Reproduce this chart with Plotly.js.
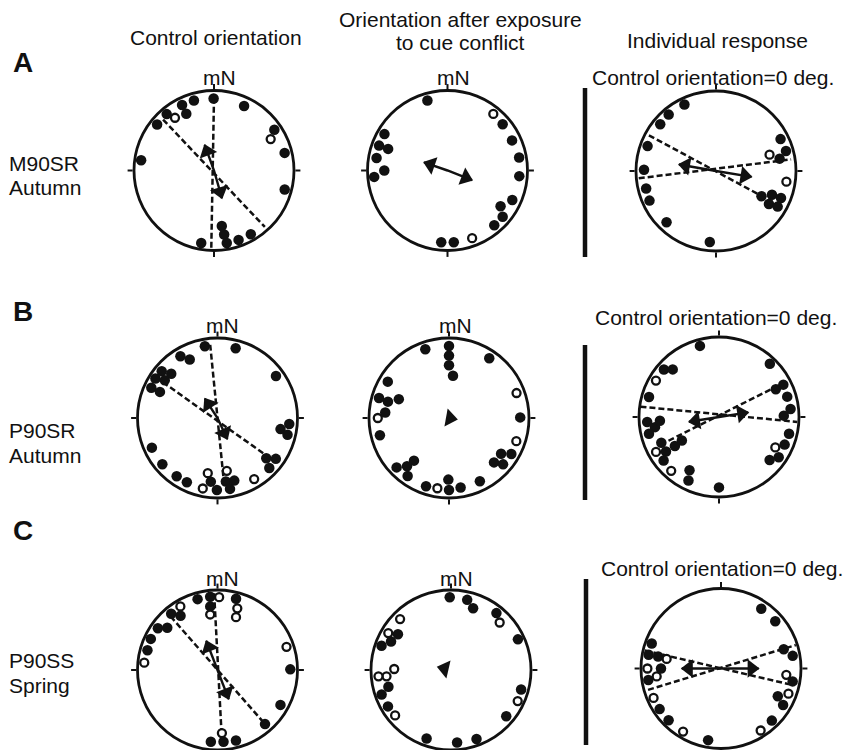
<!DOCTYPE html>
<html><head><meta charset="utf-8">
<script src="https://cdn.plot.ly/plotly-3.0.1.min.js"></script>
<style>html,body{margin:0;padding:0;background:#fff}#chart{width:846px;height:750px}</style>
</head><body><div id="chart"></div>
<script>
// ---------- DATA (angles in degrees from mN, clockwise; r as fraction of circle radius) ----------
// Row A, M90SR Autumn
const a1FilledTheta = [359.7, 344, 334, 334, 320, 309, 278, 25, 56, 76, 105, 150, 160.5, 170, 171, 172, 190];
const a1FilledR     = [0.90, 0.91, 0.91, 0.79, 0.92, 0.915, 0.92, 0.89, 0.91, 0.91, 0.915, 0.92, 0.92, 0.92, 0.81, 0.70, 0.92];
const a1OpenTheta   = [323.5, 61];
const a1OpenR       = [0.82, 0.81];
const a1LineTheta   = [0, 182, null, 315, 138];
const a1LineR       = [0.91, 0.97, null, 0.90, 0.95];
const a1ArrowTheta  = [340, 164];
const a1ArrowR      = [0.34, 0.36];

const a2FilledTheta = [344, 50, 65, 79.7, 94.5, 114.5, 124, 130, 139.5, 175, 185, 300, 290, 290, 280, 270, 265];
const a2FilledR     = [0.91, 0.90, 0.89, 0.91, 0.90, 0.89, 0.80, 0.90, 0.90, 0.90, 0.90, 0.91, 0.91, 0.79, 0.90, 0.79, 0.92];
const a2OpenTheta   = [39, 160];
const a2OpenR       = [0.91, 0.90];
const a2ArrowTheta  = [289, 111.5];
const a2ArrowR      = [0.31, 0.33];

const a3FilledTheta = [334.6, 320, 310, 290, 271, 256, 246, 224, 185, 63.7, 74, 79, 119, 113, 112.6, 122, 120];
const a3FilledR     = [0.92, 0.92, 0.91, 0.91, 0.90, 0.90, 0.91, 0.89, 0.89, 0.90, 0.91, 0.81, 0.65, 0.76, 0.88, 0.78, 0.89];
const a3OpenTheta   = [73, 98.6];
const a3OpenR       = [0.70, 0.89];
const a3LineTheta   = [298, 118.6, null, 264.6, 81.2];
const a3LineR       = [0.95, 0.80, null, 0.97, 0.95];
const a3ArrowTheta  = [280, 99.5];
const a3ArrowR      = [0.47, 0.45];

// Row B, P90SR Autumn
const b1FilledTheta = [350, 14.6, 329, 334.6, 310, 313.7, 302.5, 305.5, 294.6, 294.4, 54.3, 94.8, 100, 103.5, 129.5, 125, 134, 245.7, 230, 215, 205.5, 186, 180.5, 172.5, 165, 170];
const b1FilledR     = [0.91, 0.90, 0.90, 0.81, 0.91, 0.80, 0.92, 0.81, 0.91, 0.79, 0.90, 0.90, 0.80, 0.90, 0.79, 0.89, 0.90, 0.90, 0.90, 0.89, 0.89, 0.80, 0.90, 0.80, 0.81, 0.90];
const b1OpenTheta   = [190, 191.8, 170, 149];
const b1OpenR       = [0.70, 0.90, 0.67, 0.89];
const b1LineTheta   = [354.3, 174.3, null, 303.5, 127.5];
const b1LineR       = [0.92, 0.75, null, 0.93, 0.77];
const b1ArrowTheta  = [327, 155];
const b1ArrowR      = [0.29, 0.29];

const b2FilledTheta = [341, 0, 0, 0, 5.4, 34, 300.7, 286, 285, 290.6, 275, 256, 89.5, 124.5, 120, 134.6, 130.6, 219.4, 226.7, 221, 215.5, 198.6, 180.6, 180, 170.5, 154];
const b2FilledR     = [0.91, 0.90, 0.78, 0.66, 0.53, 0.90, 0.89, 0.91, 0.79, 0.67, 0.80, 0.89, 0.89, 0.79, 0.90, 0.79, 0.89, 0.69, 0.90, 0.80, 0.89, 0.90, 0.77, 0.90, 0.88, 0.88];
const b2OpenTheta   = [270, 69.7, 109, 189.4];
const b2OpenR       = [0.89, 0.90, 0.89, 0.89];
const b2ArrowTheta  = [100];
const b2ArrowR      = [0.1];

const b3FilledTheta = [345, 43.7, 310.8, 315.8, 286, 266, 261, 266.4, 256.5, 245.9, 237, 231.9, 236.7, 237.6, 209, 205.7, 180, 63.3, 64, 73.4, 83.6, 88.8, 103.4, 112.8, 124, 130.3];
const b3FilledR     = [0.92, 0.92, 0.91, 0.83, 0.91, 0.90, 0.81, 0.74, 0.90, 0.79, 0.79, 0.88, 0.66, 0.55, 0.76, 0.88, 0.88, 0.90, 0.79, 0.89, 0.90, 0.81, 0.90, 0.89, 0.90, 0.83];
const b3OpenTheta   = [300, 241, 221.6, 118.4];
const b3OpenR       = [0.91, 0.90, 0.90, 0.80];
const b3LineTheta   = [277.5, 93.6, null, 244.6, 62.3];
const b3LineR       = [0.99, 0.98, null, 0.81, 0.95];
const b3ArrowTheta  = [261, 81];
const b3ArrowR      = [0.38, 0.37];

// Row C, P90SS Spring
const c1FilledTheta = [344.3, 354.3, 353.5, 14.6, 320.5, 325.7, 305, 310, 295, 285.8, 89.5, 119, 138.7, 185.3, 175.2, 165.3];
const c1FilledR     = [0.92, 0.92, 0.80, 0.92, 0.91, 0.82, 0.91, 0.82, 0.92, 0.91, 0.91, 0.90, 0.90, 0.90, 0.90, 0.91];
const c1OpenTheta   = [1.3, 329.7, 352.5, 17.8, 19.3, 71.4, 275.7, 176];
const c1OpenR       = [0.91, 0.92, 0.70, 0.81, 0.70, 0.91, 0.92, 0.79];
const c1LineTheta   = [357.5, 176.4, null, 318.8, 138.7];
const c1LineR       = [0.96, 0.86, null, 0.89, 0.90];
const c1ArrowTheta  = [339, 159];
const c1ArrowR      = [0.39, 0.39];

const c2FilledTheta = [359, 13, 19.7, 38.6, 65.4, 105.6, 129.9, 159.7, 175.2, 199.6, 304, 289.3, 295.4, 255, 250.5, 240];
const c2FilledR     = [0.91, 0.90, 0.82, 0.91, 0.92, 0.91, 0.90, 0.92, 0.91, 0.91, 0.80, 0.92, 0.83, 0.81, 0.92, 0.91];
const c2OpenTheta   = [315, 300.5, 45.7, 271, 264.4, 265, 115, 230.9];
const c2OpenR       = [0.90, 0.91, 0.85, 0.71, 0.81, 0.91, 0.92, 0.90];
const c2ArrowTheta  = [283];
const c2ArrowR      = [0.17];

const c3FilledTheta = [34, 48.9, 289.8, 280.7, 280.8, 270, 261, 73, 80, 100.2, 116, 120.4, 135.7, 236.5, 225.4, 190.2];
const c3FilledR     = [0.90, 0.90, 0.92, 0.92, 0.80, 0.75, 0.92, 0.82, 0.91, 0.91, 0.79, 0.90, 0.91, 0.92, 0.92, 0.91];
const c3OpenTheta   = [280, 270, 263, 246.4, 95.5, 110.5, 147.4, 211];
const c3OpenR       = [0.69, 0.92, 0.81, 0.92, 0.82, 0.90, 0.92, 0.92];
const c3LineTheta   = [283.3, 103, null, 253.7, 72.6];
const c3LineR       = [0.98, 0.90, null, 0.95, 0.98];
const c3ArrowTheta  = [270, 90];
const c3ArrowR      = [0.49, 0.47];

// Text
const panelLetters  = ['A', 'B', 'C'];
const groupLine1    = ['M90SR', 'P90SR', 'P90SS'];
const groupLine2    = ['Autumn', 'Autumn', 'Spring'];
const columnTitles  = ['Control orientation', 'Orientation after exposure', 'to cue conflict', 'Individual response'];
const northLabel    = 'mN';
const refLabel      = 'Control orientation=0 deg.';

// ---------- LAYOUT GEOMETRY ----------
const W = 846, H = 750, RAD = 80;
const INK = '#111';
const FONT = 'Liberation Sans, Arial, Helvetica, sans-serif';
const FS = 21;
const centers = [
  [214, 170.5], [447.5, 170.5], [716, 171],
  [217.5, 418], [449, 418], [719, 417],
  [217.5, 670], [451, 670], [721, 668.5]
];
const panels = [
  {f:[a1FilledTheta,a1FilledR], o:[a1OpenTheta,a1OpenR], l:[a1LineTheta,a1LineR], a:[a1ArrowTheta,a1ArrowR]},
  {f:[a2FilledTheta,a2FilledR], o:[a2OpenTheta,a2OpenR], l:null, a:[a2ArrowTheta,a2ArrowR]},
  {f:[a3FilledTheta,a3FilledR], o:[a3OpenTheta,a3OpenR], l:[a3LineTheta,a3LineR], a:[a3ArrowTheta,a3ArrowR]},
  {f:[b1FilledTheta,b1FilledR], o:[b1OpenTheta,b1OpenR], l:[b1LineTheta,b1LineR], a:[b1ArrowTheta,b1ArrowR]},
  {f:[b2FilledTheta,b2FilledR], o:[b2OpenTheta,b2OpenR], l:null, a:[b2ArrowTheta,b2ArrowR], single:true},
  {f:[b3FilledTheta,b3FilledR], o:[b3OpenTheta,b3OpenR], l:[b3LineTheta,b3LineR], a:[b3ArrowTheta,b3ArrowR]},
  {f:[c1FilledTheta,c1FilledR], o:[c1OpenTheta,c1OpenR], l:[c1LineTheta,c1LineR], a:[c1ArrowTheta,c1ArrowR]},
  {f:[c2FilledTheta,c2FilledR], o:[c2OpenTheta,c2OpenR], l:null, a:[c2ArrowTheta,c2ArrowR], single:true},
  {f:[c3FilledTheta,c3FilledR], o:[c3OpenTheta,c3OpenR], l:[c3LineTheta,c3LineR], a:[c3ArrowTheta,c3ArrowR]}
];

const traces = [];
const layout = {
  width: W, height: H, margin: {l:0, r:0, t:0, b:0},
  paper_bgcolor: '#fff', showlegend: false,
  font: {family: FONT, color: INK, size: FS},
  annotations: [], shapes: []
};

panels.forEach((p, i) => {
  const id = i === 0 ? 'polar' : 'polar' + (i + 1);
  const [cx, cy] = centers[i];
  layout[id] = {
    domain: {x: [(cx - RAD) / W, (cx + RAD) / W], y: [1 - (cy + RAD) / H, 1 - (cy - RAD) / H]},
    bgcolor: '#fff',
    radialaxis: {visible: false, range: [0, 1]},
    angularaxis: {
      rotation: 90, direction: 'clockwise', showgrid: false, showticklabels: false,
      tickmode: 'array', tickvals: [0, 90, 180, 270], ticks: 'outside', ticklen: 5,
      tickwidth: 2, tickcolor: INK, linecolor: INK, linewidth: 2.8
    }
  };
  if (p.l) {
    traces.push({type: 'scatterpolar', subplot: id, mode: 'lines', theta: p.l[0], r: p.l[1],
      connectgaps: false, line: {color: INK, width: 2.5, dash: '6px,3px'}, hoverinfo: 'skip'});
  }
  const [at, ar] = p.a;
  if (!p.single) {
    traces.push({type: 'scatterpolar', subplot: id, mode: 'lines',
      theta: [at[0], at[0], at[1]], r: [ar[0], 0, ar[1]],
      line: {color: INK, width: 2.4}, hoverinfo: 'skip'});
  }
  traces.push({type: 'scatterpolar', subplot: id, mode: 'markers', theta: at, r: ar,
    marker: {symbol: 'triangle-up', size: 16, color: INK, angle: at, standoff: 7, line: {width: 0}},
    hoverinfo: 'skip'});
  traces.push({type: 'scatterpolar', subplot: id, mode: 'markers', theta: p.f[0], r: p.f[1],
    marker: {symbol: 'circle', size: 10.5, color: INK, line: {width: 0}}, hoverinfo: 'skip'});
  traces.push({type: 'scatterpolar', subplot: id, mode: 'markers', theta: p.o[0], r: p.o[1],
    marker: {symbol: 'circle', size: 8, color: '#fff', line: {width: 2.3, color: INK}}, hoverinfo: 'skip'});
});

function txt(text, x, y, opts) {
  layout.annotations.push(Object.assign({
    text: text, x: x / W, y: 1 - y / H, xref: 'paper', yref: 'paper',
    showarrow: false, xanchor: 'center', yanchor: 'middle',
    font: {family: FONT, size: FS, color: INK}
  }, opts || {}));
}
// column headers
txt(columnTitles[0], 216, 38);
txt(columnTitles[1], 460, 20);
txt(columnTitles[2], 460, 42);
txt(columnTitles[3], 717, 40);
// panel letters
const letterY = [63, 311, 530];
panelLetters.forEach((L, k) => txt('<b>' + L + '</b>', 11, letterY[k], {xanchor: 'left', font: {family: FONT, size: 28, color: INK}}));
// group labels
const groupY = [[163, 188], [430, 455], [660, 685]];
groupLine1.forEach((g, k) => {
  txt(groupLine1[k], 7, groupY[k][0], {xanchor: 'left'});
  txt(groupLine2[k], 7, groupY[k][1], {xanchor: 'left'});
});
// mN labels
const mnY = [78, 325, 578];
[0, 3, 6].forEach((pi, k) => { txt(northLabel, centers[pi][0] + 5, mnY[k]); txt(northLabel, centers[pi + 1][0] + 6, mnY[k]); });
// reference labels
txt(refLabel, 713, 77);
txt(refLabel, 716, 318);
txt(refLabel, 722, 568);
// thick separators
const bars = [[585, 88, 257], [585, 345, 500], [586, 579, 745]];
bars.forEach(b => layout.shapes.push({type: 'line', xref: 'paper', yref: 'paper',
  x0: b[0] / W, x1: b[0] / W, y0: 1 - b[1] / H, y1: 1 - b[2] / H, line: {color: INK, width: 4.5}}));

Plotly.newPlot('chart', traces, layout, {staticPlot: true, displayModeBar: false});
</script></body></html>
